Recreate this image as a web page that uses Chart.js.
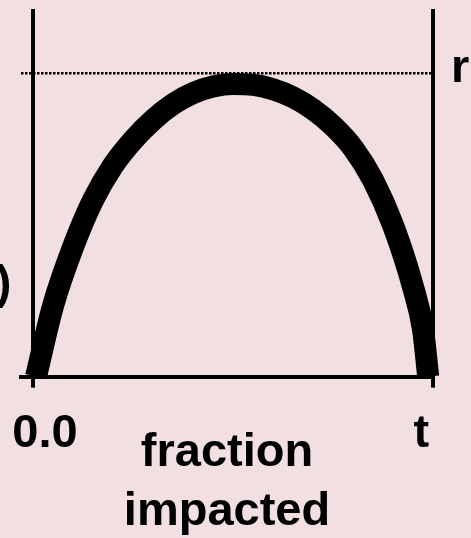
<!DOCTYPE html>
<html lang="en">
<head>
  <meta charset="UTF-8" />
  <title>fraction impacted</title>
  <script src="https://cdn.jsdelivr.net/npm/chart.js"></script>
  <style>
    html, body {
      margin: 0;
      padding: 0;
      background: #f2dfe2;
      overflow: hidden;
    }
    #wrap {
      width: 471px;
      height: 538px;
    }
  </style>
</head>
<body>
  <div id="wrap">
    <canvas id="curveChart" width="471" height="538"></canvas>
  </div>

  <script>
    // curve (x: 0 .. t, y: 0 .. 1)
    const curveX = [0.0075, 0.05, 0.10, 0.15, 0.20, 0.25, 0.30, 0.35, 0.40, 0.45, 0.50,
                    0.55, 0.60, 0.65, 0.70, 0.75, 0.80, 0.85, 0.90, 0.95, 0.975, 0.988];
    const curveY = [0, 0.192, 0.352, 0.480, 0.574, 0.643, 0.698, 0.741, 0.771, 0.789, 0.796,
                    0.794, 0.782, 0.760, 0.727, 0.682, 0.622, 0.535, 0.412, 0.244, 0.128, 0];

    // max level (dotted line) and the cut-off side labels
    const maxLevel = 0.826;
    const maxLabel = 'r';
    const leftLabelAt = 0.249;
    const leftLabel = ')';

    // x axis: lines at 0 and t, labels sit slightly inside them
    const xLineTicks = [0, 1];
    const xLabelTicks = [0.03, 0.971];
    const xTickLabels = ['0.0', 't'];
    const xTitle = ['fraction', 'impacted'];

    const family = 'Helvetica, Arial, "Liberation Sans", sans-serif';
    const bold = { family, size: 47, weight: 'bold' };
    // side labels: tiny line height so they don't push the chart area down
    const sideFont = { family, size: 47, weight: 'bold', lineHeight: 0.3 };
    const clear = 'rgba(0,0,0,0)';
    const isLine = v => xLineTicks.includes(v);

    new Chart(document.getElementById('curveChart'), {
      type: 'line',
      data: {
        datasets: [{
          data: curveX.map((x, i) => ({ x, y: curveY[i] })),
          borderColor: '#000',
          borderWidth: 22,
          borderCapStyle: 'butt',
          borderJoinStyle: 'round',
          pointRadius: 0,
          cubicInterpolationMode: 'monotone',
          clip: false,
          yAxisID: 'y'
        }]
      },
      options: {
        responsive: false,
        animation: false,
        layout: { padding: { top: 9, left: -4.25, right: 1.7, bottom: 0 } },
        plugins: {
          legend: { display: false },
          tooltip: { enabled: false }
        },
        scales: {
          x: {
            type: 'linear',
            min: -0.03,
            max: 1,
            afterBuildTicks: axis => {
              axis.ticks = [...xLineTicks, ...xLabelTicks].sort((a, b) => a - b).map(v => ({ value: v }));
            },
            border: { display: true, color: '#000', width: 4 },
            grid: {
              color: ctx => isLine(ctx.tick.value) ? '#000' : clear,
              lineWidth: ctx => isLine(ctx.tick.value) ? 4 : 0,
              tickColor: ctx => isLine(ctx.tick.value) ? '#000' : clear,
              tickWidth: ctx => isLine(ctx.tick.value) ? 4 : 0,
              tickLength: 11
            },
            ticks: {
              autoSkip: false,
              maxRotation: 0,
              padding: 18.5,
              color: '#000',
              font: bold,
              callback: v => {
                const i = xLabelTicks.indexOf(v);
                return i >= 0 ? xTickLabels[i] : '';
              }
            },
            title: {
              display: true,
              text: xTitle,
              color: '#000',
              font: { ...bold, lineHeight: 1.255 },
              padding: { top: -57, bottom: -4 }
            }
          },
          y: {
            position: 'right',
            min: 0,
            max: 1,
            afterBuildTicks: axis => { axis.ticks = [{ value: maxLevel }]; },
            border: { display: false, dash: [2.5, 1.5] },
            grid: { color: '#000', lineWidth: 2.5, drawTicks: true, tickLength: 18, tickColor: clear },
            ticks: {
              padding: 0,
              labelOffset: -4,
              color: '#000',
              font: sideFont,
              callback: () => maxLabel
            }
          },
          yl: {
            position: 'left',
            min: 0,
            max: 1,
            afterBuildTicks: axis => { axis.ticks = [{ value: leftLabelAt }]; },
            border: { display: false },
            grid: { display: true, drawOnChartArea: false, color: clear, tickColor: clear, tickLength: 9.6 },
            ticks: {
              padding: 0,
              color: '#000',
              font: sideFont,
              callback: () => leftLabel
            }
          }
        }
      }
    });
  </script>
</body>
</html>
